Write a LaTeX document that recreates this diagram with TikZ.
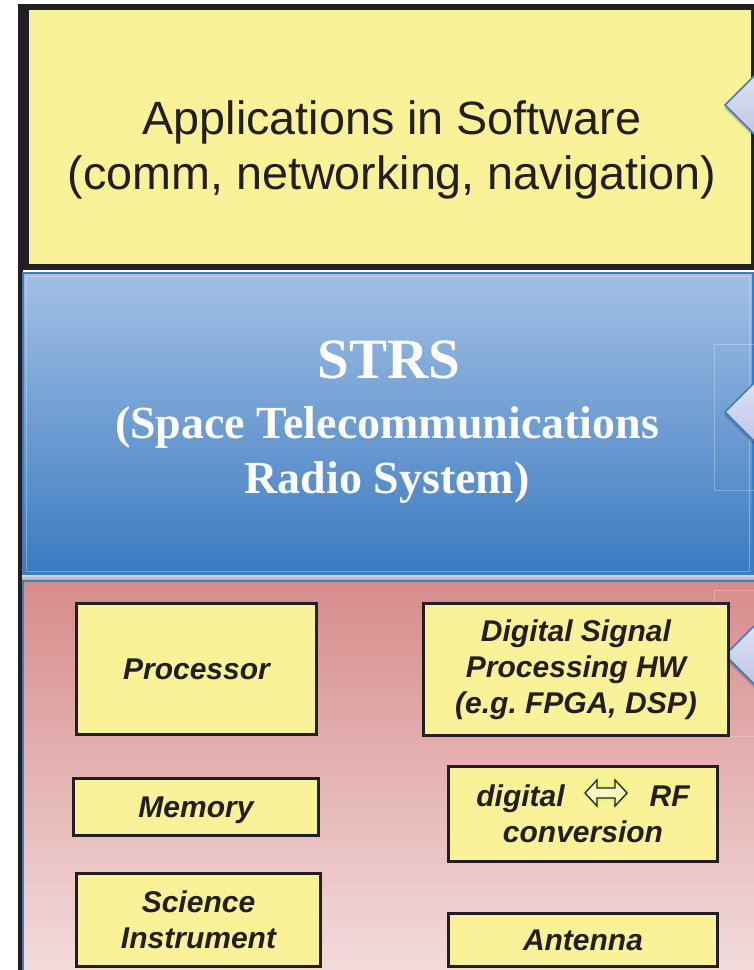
\documentclass[tikz,border=0pt]{standalone}
\usepackage{fontspec}
\setmainfont{Liberation Sans}
\newfontfamily\timesfont{Liberation Serif}
\frenchspacing

\definecolor{padyellow}{HTML}{FAF298}
\definecolor{boxline}{HTML}{231F20}
\definecolor{blueTop}{HTML}{A3C0E5}
\definecolor{blueBot}{HTML}{3A7AC0}
\definecolor{pinkTop}{HTML}{D68C8B}
\definecolor{pinkBot}{HTML}{F3DCDD}
\definecolor{sepTop}{HTML}{DADADA}
\definecolor{sepBot}{HTML}{A9A9A9}
\definecolor{edgeBlue}{HTML}{3F7DC1}
\definecolor{tipTop}{HTML}{E2E5F4}
\definecolor{tipBot}{HTML}{BAC3E6}

\newcommand\hwfont{\fontsize{30}{36}\selectfont\bfseries\itshape}
\newcommand\appfont{\fontsize{46.7}{55}\selectfont}

\begin{document}
\begin{tikzpicture}[x=1pt, y=-1pt,
  hwbox/.style={draw=boxline, line width=3pt, fill=padyellow, font=\hwfont,
                text=boxline, align=center, inner sep=0pt},
  appline/.style={anchor=base, font=\appfont, text=boxline, inner sep=0pt},
  strsline/.style={anchor=base, text=white, inner sep=0pt},
  callout/.style={draw=edgeBlue, line width=1.5pt, line join=miter,
                  top color=tipTop, bottom color=tipBot},
  faintframe/.style={draw=white, draw opacity=.28, line width=.8pt}]

\useasboundingbox (0,0) rectangle (754,970);

\begin{scope}
\clip (0,0) rectangle (754,970);

% outer frame strip on the left
\fill[boxline] (18,4) rectangle (23,975);

% software layer
\fill[boxline] (18,4) rectangle (760,270);
\fill[padyellow] (29,10) rectangle (751,264);
\fill[white] (23,270) rectangle (760,272);

% STRS layer
\shade[top color=blueTop, bottom color=blueBot] (22,272) rectangle (754,575);
\draw[edgeBlue, line width=2pt] (23,273) rectangle (752.5,574);
\draw[white, opacity=.3, line width=.8pt] (26,276) rectangle (749,571);
\draw[faintframe] (760,344) -- (714,344) -- (714,490) -- (760,490);

% separator strip
\shade[top color=sepTop, bottom color=sepBot] (22,575) rectangle (754,580);

% hardware layer
\shade[top color=pinkTop, bottom color=pinkBot] (22,580) rectangle (754,975);
\draw[edgeBlue, line width=2pt] (23,975) -- (23,581) -- (760,581);
\draw[faintframe] (760,590) -- (714,590) -- (714,736) -- (760,736);

% side pointers with soft shadows
\foreach \ty in {105,412,655}{
  \foreach \k/\op in {4/.06,3/.08,2/.1}{
    \fill[black, opacity=\op] (760,\ty-35+\k) -- (725-\k*.3,\ty+\k) -- (760,\ty+35+\k) -- cycle;
  }
  \path[callout] (762,\ty-37) -- (725,\ty) -- (762,\ty+37);
}
\end{scope}

% software layer text
\node[appline] (appsA) at (392,134) {Applications in Software};
\node[appline] (appsB) at (392,189) {(comm, networking, navigation)};

% STRS layer text
\node[strsline, font=\timesfont\bfseries\fontsize{57}{60}\selectfont] (strsA) at (389,378) {STRS};
\node[strsline, font=\timesfont\bfseries\fontsize{46}{55}\selectfont] (strsB) at (387,438) {(Space Telecommunications};
\node[strsline, font=\timesfont\bfseries\fontsize{46}{55}\selectfont] (strsC) at (387,493) {Radio System)};

% hardware blocks
\node[hwbox, minimum width=240pt, minimum height=131pt] (proc) at (196.5,669) {Processor};
\node[hwbox, minimum width=245pt, minimum height=57pt, text depth=0pt] (mem) at (196,807) {Memory};
\node[hwbox, minimum width=244pt, minimum height=93pt]  (sci)  at (198.5,920) {Science\\Instrument};
\node[hwbox, minimum width=305pt, minimum height=132pt] (dsp)  at (576,669.5) {Digital Signal\\Processing HW\\(e.g. FPGA, DSP)};
\node[hwbox, minimum width=269pt, minimum height=95pt]  (conv) at (583,814)   {digital\hspace{85pt}RF\\conversion};
\node[hwbox, minimum width=269pt, minimum height=53pt]  (ant)  at (583,940)   {Antenna};

% two-way hollow arrow between "digital" and "RF"
\begin{scope}[shift={(606,793)}]
  \draw[line width=5pt, draw=green!40!yellow, draw opacity=.25, line join=round]
    (-21,0) -- (-9,-13) -- (-9,-5) -- (9,-5) -- (9,-13) -- (21,0) -- (9,13) -- (9,5) -- (-9,5) -- (-9,13) -- cycle;
  \draw[line width=1.3pt, draw=boxline, fill=padyellow!60!white, line join=miter]
    (-21,0) -- (-9,-13) -- (-9,-5) -- (9,-5) -- (9,-13) -- (21,0) -- (9,13) -- (9,5) -- (-9,5) -- (-9,13) -- cycle;
\end{scope}

\end{tikzpicture}
\end{document}
